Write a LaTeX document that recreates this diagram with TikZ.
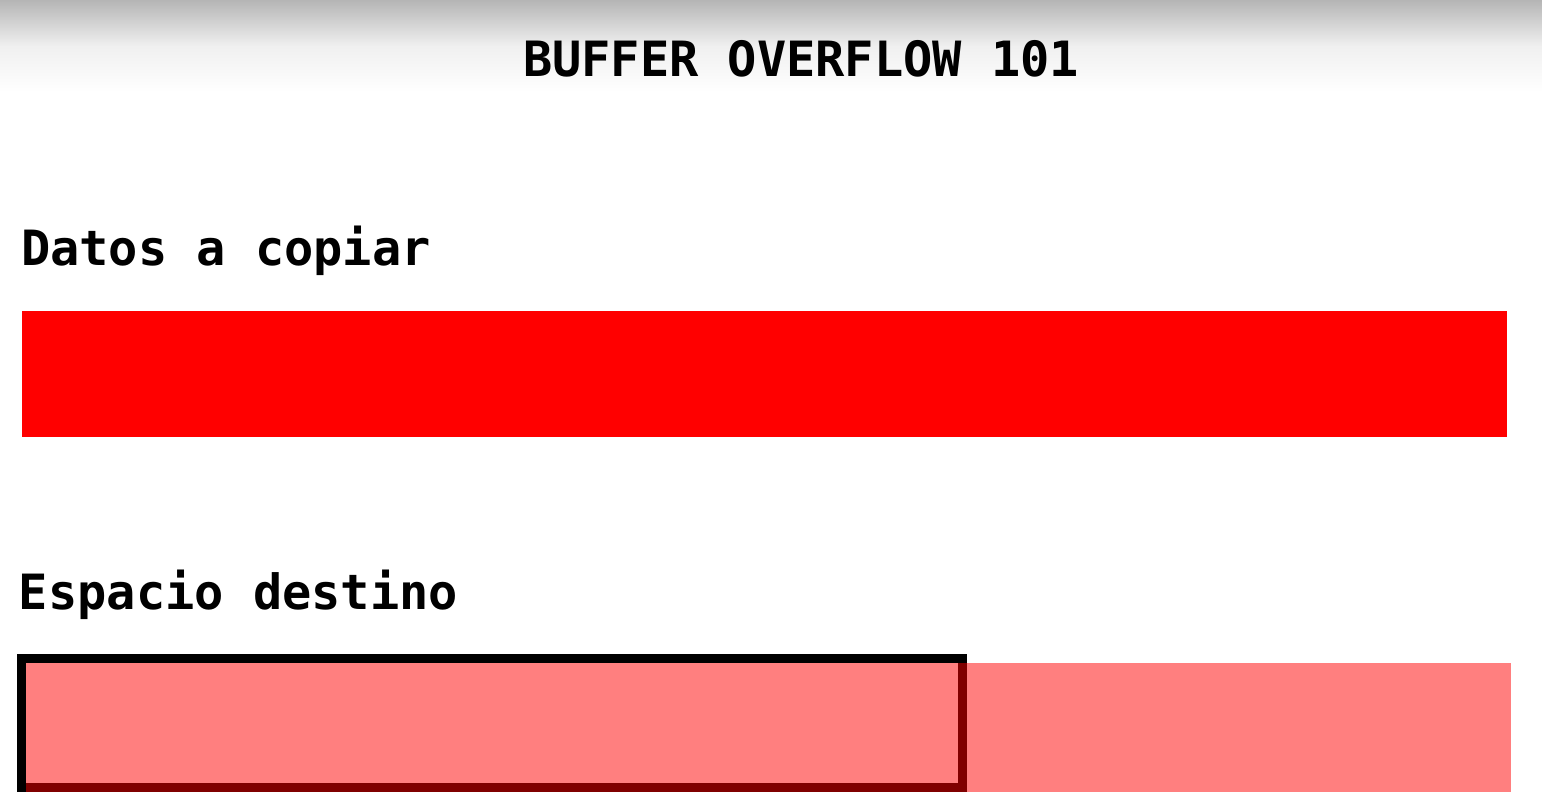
\documentclass[tikz,border=0pt]{standalone}
\usepackage{fontspec}
\newfontfamily\monob[BoldFont={DejaVu Sans Mono Bold}]{DejaVu Sans Mono}
\begin{document}
\begin{tikzpicture}[x=1pt,y=-1pt,
  lbl/.style={inner sep=0pt,outer sep=0pt,font=\monob\bfseries\fontsize{48.6}{58}\selectfont},
  databar/.style={fill=red,draw=none,inner sep=0pt,outer sep=0pt,anchor=north west},
  overflowbar/.style={fill=red,fill opacity=0.5,draw=none,inner sep=0pt,outer sep=0pt,anchor=north west},
  bufbox/.style={draw=black,line width=9pt,fill=none,inner sep=0pt,outer sep=0pt,anchor=north west}]
\useasboundingbox (0,0) rectangle (1542,811);
\fill[white] (0,0) rectangle (1542,811);
\shade[top color=black!29,bottom color=white,middle color=black!6] (0,0) rectangle (1542,92);
\node[lbl,anchor=base] (title) at (801,76) {BUFFER OVERFLOW 101};
\node[lbl,anchor=base west] (datos) at (21,265) {Datos a copiar};
\node[databar,minimum width=1485pt,minimum height=126pt] (src) at (22,311) {};
\node[lbl,anchor=base west] (esp) at (19,609) {Espacio destino};
\node[bufbox,minimum width=940.5pt,minimum height=128.5pt] (buf) at (21.5,658.5) {};
\node[overflowbar,minimum width=1485pt,minimum height=129pt] (dst) at (26,663) {};
\end{tikzpicture}
\end{document}
